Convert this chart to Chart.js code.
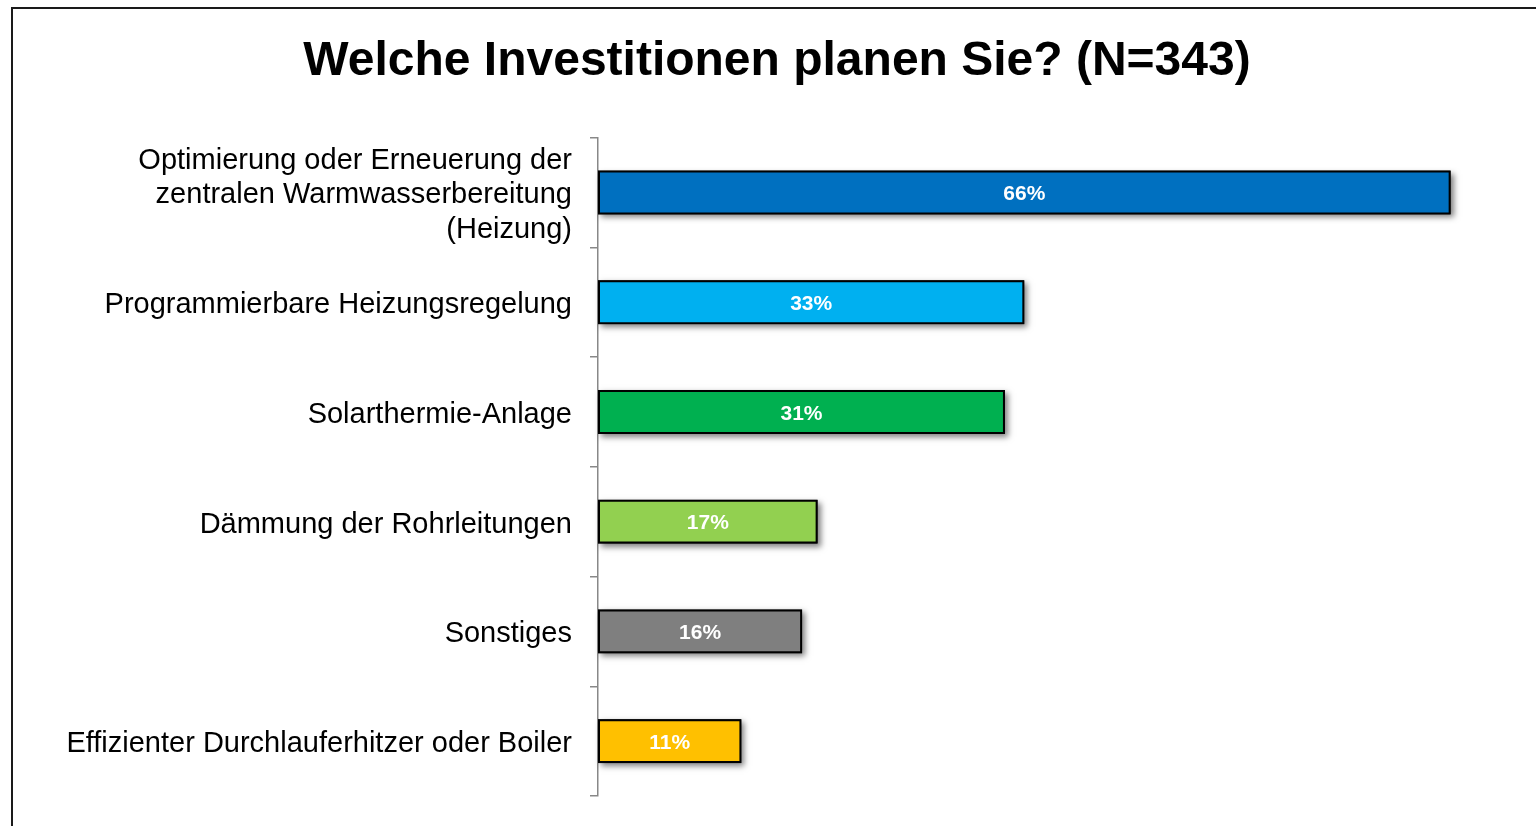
<!DOCTYPE html>
<html>
<head>
<meta charset="utf-8">
<script src="https://cdn.jsdelivr.net/npm/chart.js@4.4.1/dist/chart.umd.min.js"></script>
<style>
  html, body { margin: 0; padding: 0; background: #fff; overflow: hidden; }
  #frame {
    position: absolute; left: 11px; top: 7px;
    width: 1560px; height: 840px;
    border: 2px solid #1a1a1a;
  }
  #chart { position: absolute; left: 0; top: 0; }
</style>
</head>
<body>
<div id="frame"></div>
<canvas id="chart" width="1554" height="826"></canvas>
<script>
/*
*Chart data
*/
const categories = [
    ['Optimierung oder Erneuerung der', 'zentralen Warmwasserbereitung', '(Heizung)'],
    'Programmierbare Heizungsregelung',
    'Solarthermie-Anlage',
    'Dämmung der Rohrleitungen',
    'Sonstiges',
    'Effizienter Durchlauferhitzer oder Boiler'
];
const values = [66, 33, 31.5, 17, 15.8, 11.1];
const valueLabels = ['66%', '33%', '31%', '17%', '16%', '11%'];
const barColors = ['#0070C0', '#00B0F0', '#00B050', '#92D050', '#7F7F7F', '#FFC000'];
const title = 'Welche Investitionen planen Sie? (N=343)';

/*
*Soft shadow under the bars (drawn first, the bars cover the rectangle itself)
*/
const shadowPlugin = {
    id: 'barShadow',
    beforeDatasetDraw(chart, args){
        const ctx = chart.ctx;
        ctx.save();
        ctx.shadowColor = 'rgba(0,0,0,0.5)';
        ctx.shadowBlur = 6;
        ctx.shadowOffsetX = 3;
        ctx.shadowOffsetY = 3;
        ctx.fillStyle = '#000';
        args.meta.data.forEach(function(bar){
            const left = Math.min(bar.base, bar.x);
            ctx.fillRect(left, bar.y - bar.height / 2, Math.abs(bar.x - bar.base), bar.height);
        });
        ctx.restore();
    }
};

/*
*Percent labels inside the bars
*/
const labelPlugin = {
    id: 'barLabels',
    afterDraw(chart){
        const ctx = chart.ctx;
        const meta = chart.getDatasetMeta(0);
        ctx.save();
        ctx.fillStyle = '#fff';
        ctx.font = 'bold 21px "Liberation Sans", Arial, sans-serif';
        ctx.textAlign = 'center';
        ctx.textBaseline = 'middle';
        meta.data.forEach(function(bar, i){
            ctx.fillText(valueLabels[i], (bar.base + bar.x) / 2, bar.y + 2);
        });
        ctx.restore();
    }
};

const ctx = document.getElementById('chart').getContext('2d');
const myChart = new Chart(ctx, {
    type: 'bar',
    data: {
        labels: categories,
        datasets: [{
            data: values,
            backgroundColor: barColors,
            borderColor: '#000',
            borderWidth: 2,
            borderSkipped: false,
            barPercentage: 0.4,
            categoryPercentage: 1.0,
            clip: false
        }]
    },
    options: {
        indexAxis: 'y',
        responsive: false,
        animation: false,
        layout: { padding: { left: 0, right: 0, top: 0, bottom: 30 } },
        plugins: {
            legend: { display: false },
            tooltip: { enabled: false },
            title: {
                display: true,
                text: title,
                color: '#000',
                font: { family: '"Liberation Sans", Arial, sans-serif', size: 48, weight: 'bold', lineHeight: 1.2 },
                padding: { top: 33, bottom: 47 }
            }
        },
        scales: {
            x: { display: false, min: 0, max: 74 },
            y: {
                afterFit(scale){
                    scale.width = 598;
                    scale.paddingTop = 0;
                    scale.paddingBottom = 0;
                },
                border: { display: true, color: '#888', width: 1.5 },
                grid: { drawOnChartArea: false, color: '#888', lineWidth: 1.5, tickLength: 8, offset: true },
                ticks: {
                    color: '#000',
                    padding: 18,
                    labelOffset: 3,
                    font: { family: '"Liberation Sans", Arial, sans-serif', size: 29, lineHeight: 1.19 }
                }
            }
        }
    },
    plugins: [shadowPlugin, labelPlugin]
});
</script>
</body>
</html>
